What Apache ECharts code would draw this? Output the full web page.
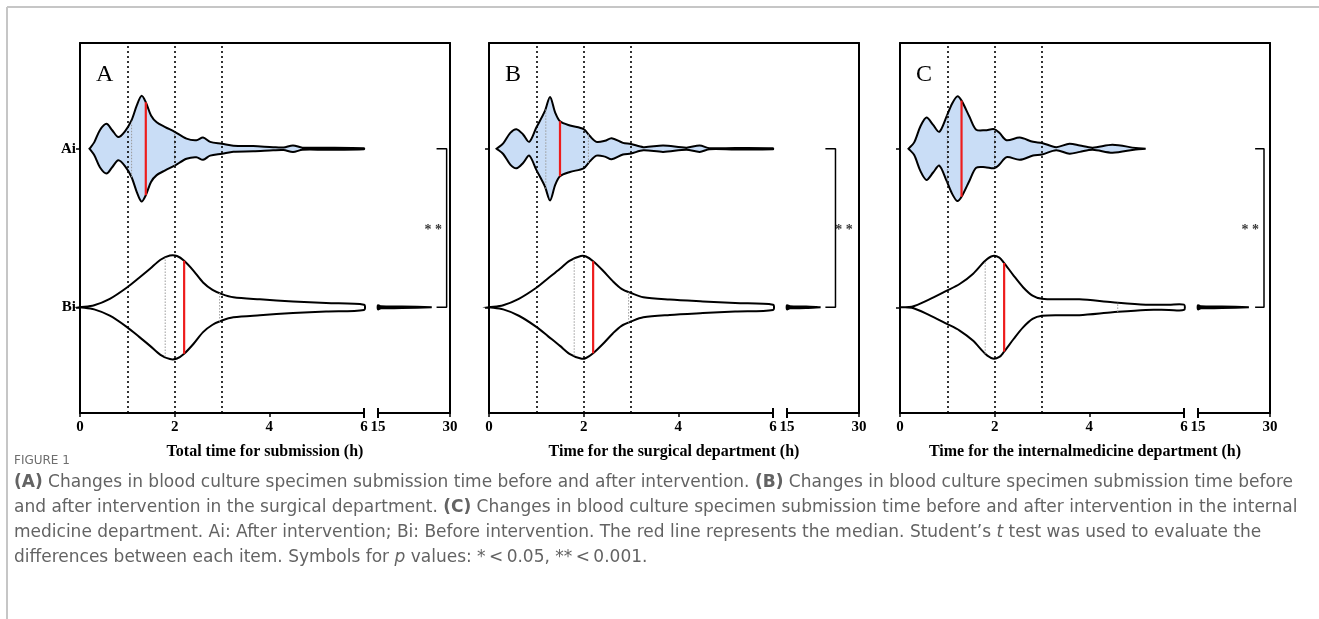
<!DOCTYPE html>
<html>
<head>
<meta charset="utf-8">
<script src="https://cdn.jsdelivr.net/npm/echarts@6/dist/echarts.min.js"></script>
<style>
  html, body { margin: 0; padding: 0; background: #fff; }
  #main { width: 1319px; height: 619px; }
</style>
</head>
<body>
<div id="main"></div>
<script>
// ticks / groups
var tickMain = [0, 2, 4, 6];
var tickBreak = [15, 30];
var groupNames = ['Bi', 'Ai'];
var groupPos = [2, 5];
var refLines = [1, 2, 3];
var panelNames = ['A', 'B', 'C'];
var axisTitles = ['Total time for submission (h)', 'Time for the surgical department (h)', 'Time for the internalmedicine department (h)'];

// violin outlines: time (h) and half width (1 = widest)
// panel A
var aiXA = [0.2, 0.3, 0.42, 0.56, 0.68, 0.81, 0.95, 1.09, 1.2, 1.3, 1.39, 1.5, 1.62, 1.8, 2.0, 2.25, 2.46, 2.6, 2.75, 3.0, 3.24, 3.66, 4.08, 4.3, 4.5, 4.7, 5.2, 6.0];
var aiWA = [0, 0.12, 0.35, 0.47, 0.35, 0.22, 0.33, 0.54, 0.82, 1.0, 0.88, 0.63, 0.5, 0.41, 0.32, 0.19, 0.16, 0.21, 0.13, 0.095, 0.057, 0.05, 0.03, 0.025, 0.063, 0.02, 0.02, 0.01];
var biXA = [0, 0.3, 0.63, 1.0, 1.25, 1.48, 1.7, 1.9, 2.05, 2.2, 2.4, 2.6, 2.8, 3.0, 3.24, 3.8, 4.5, 5.2, 6.0];
var biWA = [0, 0.04, 0.16, 0.38, 0.56, 0.73, 0.9, 0.98, 0.97, 0.88, 0.69, 0.47, 0.33, 0.25, 0.19, 0.15, 0.11, 0.08, 0.05];
var tailXA = [15, 15.6, 20, 26.2];
var tailWA = [0.04, 0.02, 0.015, 0];
// panel B
var aiXB = [0.16, 0.3, 0.45, 0.58, 0.72, 0.85, 1.0, 1.18, 1.29, 1.4, 1.5, 1.71, 2.0, 2.13, 2.27, 2.45, 2.59, 2.83, 3.0, 3.26, 3.68, 4.17, 4.45, 4.66, 5.2, 6.0];
var aiWB = [0, 0.1, 0.3, 0.37, 0.27, 0.13, 0.4, 0.71, 0.98, 0.68, 0.52, 0.44, 0.37, 0.24, 0.13, 0.15, 0.2, 0.11, 0.09, 0.03, 0.06, 0.02, 0.06, 0.01, 0.015, 0.01];
var biXB = [0, 0.3, 0.63, 1.0, 1.25, 1.5, 1.7, 1.94, 2.05, 2.2, 2.4, 2.62, 2.8, 3.0, 3.26, 3.82, 4.52, 5.2, 6.0];
var biWB = [0, 0.04, 0.16, 0.37, 0.55, 0.73, 0.88, 0.97, 0.96, 0.87, 0.7, 0.49, 0.35, 0.27, 0.19, 0.145, 0.11, 0.08, 0.05];
var tailXB = [15, 15.6, 19, 22];
var tailWB = [0.04, 0.02, 0.015, 0];
// panel C
var aiXC = [0.18, 0.3, 0.43, 0.56, 0.7, 0.83, 0.98, 1.1, 1.21, 1.3, 1.47, 1.61, 1.8, 1.99, 2.1, 2.25, 2.53, 2.81, 3.0, 3.3, 3.58, 3.8, 4.07, 4.49, 4.98, 5.19];
var aiWC = [0, 0.12, 0.42, 0.59, 0.45, 0.32, 0.6, 0.85, 0.99, 0.91, 0.6, 0.36, 0.35, 0.37, 0.3, 0.16, 0.21, 0.13, 0.11, 0.03, 0.095, 0.06, 0.02, 0.076, 0.013, 0];
var biXC = [0, 0.25, 0.6, 0.98, 1.26, 1.54, 1.8, 1.96, 2.1, 2.19, 2.4, 2.6, 2.8, 3.0, 3.4, 3.79, 4.49, 5.19, 5.68, 6.0];
var biWC = [0, 0.01, 0.14, 0.31, 0.44, 0.63, 0.88, 0.97, 0.94, 0.85, 0.6, 0.38, 0.22, 0.16, 0.15, 0.15, 0.095, 0.05, 0.05, 0.05];
var tailXC = [15, 15.6, 20, 25.6];
var tailWC = [0.04, 0.02, 0.015, 0];

// medians and quartiles [Ai, Bi]
var medianA = [1.39, 2.2], medianB = [1.5, 2.2], medianC = [1.3, 2.2];
var quartAiA = [1.09, 2.0], quartBiA = [1.8, 2.95];
var quartAiB = [1.2, 2.1], quartBiB = [1.8, 2.95];
var quartAiC = [1.0, 2.0], quartBiC = [1.8, 4.6];

// significance bracket (x from, x to) and star position
var bracketA = [27.2, 29.3], bracketB = [23, 25.1], bracketC = [26.9, 28.75];
var starsX = [26.5, 26.9, 25.9];
var starsY = 3.45;

var panels = [
  { ai: [aiXA, aiWA], bi: [biXA, biWA], tail: [tailXA, tailWA], med: medianA, qa: quartAiA, qb: quartBiA, br: bracketA },
  { ai: [aiXB, aiWB], bi: [biXB, biWB], tail: [tailXB, tailWB], med: medianB, qa: quartAiB, qb: quartBiB, br: bracketB },
  { ai: [aiXC, aiWC], bi: [biXC, biWC], tail: [tailXC, tailWC], med: medianC, qa: quartAiC, qb: quartBiC, br: bracketC }
];

var panelLeft = [80, 489, 900];
var gridTop = 43, gridHeight = 370;
var serif = 'Liberation Serif, Times New Roman, serif';

function halfAt(xs, ws, x) {
  for (var i = 0; i < xs.length - 1; i++) {
    if (x >= xs[i] && x <= xs[i + 1]) {
      var t = (x - xs[i]) / (xs[i + 1] - xs[i]);
      return ws[i] + t * (ws[i + 1] - ws[i]);
    }
  }
  return 0;
}

function violin(xs, ws, center, fill) {
  return function (params, api) {
    var top = [], bottom = [];
    for (var i = 0; i < xs.length; i++) {
      top.push(api.coord([xs[i], center + ws[i]]));
      bottom.unshift(api.coord([xs[i], center - ws[i]]));
    }
    return {
      type: 'polygon',
      shape: { points: top.concat(bottom), smooth: 0.3 },
      style: { fill: fill, stroke: '#000', lineWidth: 2 }
    };
  };
}

function vline(x, xs, ws, center) {
  var h = halfAt(xs, ws, x);
  return [[x, center - h], [x, center + h]];
}

var grid = [], xAxis = [], yAxis = [], series = [], title = [];
var lineAxis = { show: true, onZero: false, lineStyle: { color: '#000', width: 2 } };

panels.forEach(function (pn, p) {
  var L = panelLeft[p];
  grid.push({ left: L, top: gridTop, width: 284, height: gridHeight });
  grid.push({ left: L + 298, top: gridTop, width: 72, height: gridHeight });
  grid.push({ left: L, top: gridTop, width: 370, height: gridHeight });

  var labelStyle = { color: '#000', fontFamily: serif, fontWeight: 'bold', fontSize: 15, margin: 7 };
  xAxis.push({
    type: 'value', gridIndex: 3 * p, min: 0, max: 6,
    axisLine: { show: true, onZero: false, symbol: ['none', 'rect'], symbolSize: [10, 2], lineStyle: { color: '#000', width: 2 } },
    axisTick: { show: true, customValues: tickMain, length: 4, lineStyle: { color: '#000', width: 1.5 } },
    axisLabel: Object.assign({ customValues: tickMain }, labelStyle),
    splitLine: { show: false }
  });
  xAxis.push({
    type: 'value', gridIndex: 3 * p + 1, min: 15, max: 30,
    axisLine: { show: true, onZero: false, symbol: ['rect', 'none'], symbolSize: [10, 2], lineStyle: { color: '#000', width: 2 } },
    axisTick: { show: true, customValues: [30], length: 4, lineStyle: { color: '#000', width: 1.5 } },
    axisLabel: Object.assign({ customValues: tickBreak }, labelStyle),
    splitLine: { show: false }
  });
  xAxis.push({
    type: 'value', gridIndex: 3 * p + 2, position: 'top', min: 0, max: 1,
    axisLine: lineAxis, axisTick: { show: false }, axisLabel: { show: false }, splitLine: { show: false }
  });
  xAxis.push({
    type: 'value', gridIndex: 3 * p + 2, position: 'bottom', min: 0, max: 1,
    axisLine: { show: false }, axisTick: { show: false }, axisLabel: { show: false }, splitLine: { show: false },
    name: axisTitles[p], nameLocation: 'middle', nameGap: 31,
    nameTextStyle: { color: '#000', fontFamily: serif, fontWeight: 'bold', fontSize: 16 }
  });

  yAxis.push({
    type: 'value', gridIndex: 3 * p, min: 0, max: 7,
    axisLine: lineAxis,
    axisTick: { show: true, customValues: groupPos, length: 4, lineStyle: { color: '#000', width: 1.5 } },
    axisLabel: {
      show: p === 0, customValues: groupPos, margin: 4,
      color: '#000', fontFamily: serif, fontWeight: 'bold', fontSize: 15,
      formatter: function (v) { return groupNames[groupPos.indexOf(v)] || ''; }
    },
    splitLine: { show: false }
  });
  yAxis.push({
    type: 'value', gridIndex: 3 * p + 1, position: 'right', min: 0, max: 7,
    axisLine: lineAxis, axisTick: { show: false }, axisLabel: { show: false }, splitLine: { show: false }
  });
  yAxis.push({ type: 'value', gridIndex: 3 * p + 2, min: 0, max: 1, show: false });

  var xm = 4 * p, ym = 3 * p, xb = 4 * p + 1, yb = 3 * p + 1;

  // dotted reference lines
  series.push({
    type: 'line', xAxisIndex: xm, yAxisIndex: ym, data: [], z: 1, silent: true,
    markLine: {
      symbol: ['none', 'none'], silent: true, label: { show: false },
      lineStyle: { color: '#000', width: 1.6, type: [2, 3] },
      data: refLines.map(function (v) { return { xAxis: v }; })
    }
  });
  // violins
  series.push({ type: 'custom', xAxisIndex: xm, yAxisIndex: ym, z: 3, silent: true, data: [[0, 5]],
    renderItem: violin(pn.ai[0], pn.ai[1], groupPos[1], '#c9ddf6') });
  series.push({ type: 'custom', xAxisIndex: xm, yAxisIndex: ym, z: 3, silent: true, data: [[0, 2]],
    renderItem: violin(pn.bi[0], pn.bi[1], groupPos[0], 'rgba(255,255,255,0)') });
  series.push({ type: 'custom', xAxisIndex: xb, yAxisIndex: yb, z: 3, silent: true, data: [[15, 2]],
    renderItem: violin(pn.tail[0], pn.tail[1], groupPos[0], '#000') });

  // quartiles
  var qLines = [];
  pn.qa.forEach(function (q) { qLines.push(vline(q, pn.ai[0], pn.ai[1], groupPos[1])); });
  pn.qb.forEach(function (q) { qLines.push(vline(q, pn.bi[0], pn.bi[1], groupPos[0])); });
  qLines.forEach(function (d) {
    series.push({ type: 'line', xAxisIndex: xm, yAxisIndex: ym, z: 4, silent: true, symbol: 'none', data: d,
      lineStyle: { color: '#9a9a9a', width: 1, type: [1.5, 1.5] } });
  });
  // medians
  series.push({ type: 'line', xAxisIndex: xm, yAxisIndex: ym, z: 5, silent: true, symbol: 'none',
    data: vline(pn.med[0], pn.ai[0], pn.ai[1], groupPos[1]), lineStyle: { color: '#ee1c1c', width: 2.2 } });
  series.push({ type: 'line', xAxisIndex: xm, yAxisIndex: ym, z: 5, silent: true, symbol: 'none',
    data: vline(pn.med[1], pn.bi[0], pn.bi[1], groupPos[0]), lineStyle: { color: '#ee1c1c', width: 2.2 } });

  // bracket and stars
  series.push({ type: 'line', xAxisIndex: xb, yAxisIndex: yb, z: 5, silent: true, symbol: 'none',
    data: [[pn.br[0], groupPos[1]], [pn.br[1], groupPos[1]], [pn.br[1], groupPos[0]], [pn.br[0], groupPos[0]]],
    lineStyle: { color: '#000', width: 1.5 } });
  series.push({ type: 'scatter', xAxisIndex: xb, yAxisIndex: yb, z: 5, silent: true, symbolSize: 0,
    data: [[starsX[p], starsY]],
    label: { show: true, position: 'inside', formatter: '* *', color: '#000', fontFamily: serif, fontWeight: 'bold', fontSize: 14 } });

  title.push({ text: panelNames[p], left: L + 11, top: 58,
    textStyle: { fontFamily: serif, fontWeight: 'normal', fontSize: 24, color: '#000' } });
});

var captionLines = [
  '{b|(A)} Changes in blood culture specimen submission time before and after intervention. {b|(B)} Changes in blood culture specimen submission time before',
  'and after intervention in the surgical department. {b|(C)} Changes in blood culture specimen submission time before and after intervention in the internal',
  'medicine department. Ai: After intervention; Bi: Before intervention. The red line represents the median. Student\u2019s {i|t} test was used to evaluate the',
  'differences between each item. Symbols for {i|p} values: *\u2009<\u20090.05, **\u2009<\u20090.001.'
];

var sans = 'DejaVu Sans, Open Sans, sans-serif';
var capSize = 17;
var capColor = '#636363';
var myChart = echarts.init(document.getElementById('main'));
myChart.setOption({
  animation: false,
  title: title,
  grid: grid,
  xAxis: xAxis,
  yAxis: yAxis,
  series: series,
  graphic: [
    { type: 'line', shape: { x1: 7, y1: 7, x2: 1319, y2: 7 }, style: { stroke: '#c6c6c6', lineWidth: 2 } },
    { type: 'line', shape: { x1: 7, y1: 7, x2: 7, y2: 619 }, style: { stroke: '#c6c6c6', lineWidth: 2 } },
    { type: 'text', left: 14, top: 455,
      style: { text: 'FIGURE 1', fontFamily: sans, fontSize: 12, fill: '#6e6e6e' } },
    { type: 'text', left: 14, top: 470,
      style: {
        text: captionLines.join('\n'), fontFamily: sans, fontSize: capSize, fill: capColor, lineHeight: 25,
        rich: {
          b: { fontFamily: sans, fontSize: capSize, fontWeight: 'bold', fill: capColor, lineHeight: 25 },
          i: { fontFamily: sans, fontSize: capSize, fontStyle: 'italic', fill: capColor, lineHeight: 25 }
        }
      } }
  ]
});
</script>
</body>
</html>
